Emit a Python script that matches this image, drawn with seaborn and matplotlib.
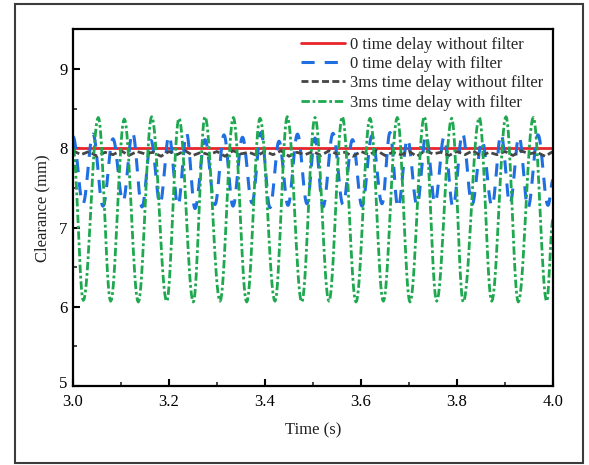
import numpy as np
import pandas as pd
import matplotlib
matplotlib.use("Agg")
import matplotlib.pyplot as plt
import matplotlib.transforms as mtransforms
import seaborn as sns
from matplotlib.patches import Rectangle
from matplotlib.ticker import MultipleLocator, FormatStrFormatter

# ---------------- data ----------------
series_names = [
    "0 time delay without filter",
    "0 time delay with filter",
    "3ms time delay without filter",
    "3ms time delay with filter",
]

# red: constant clearance
red_t = [3.0, 4.0]
red_v = [8.0, 8.0]

# blue: 0 time delay with filter -- turning points (troughs / peaks)
blue_start = (3.0, 8.15)
blue_end = (4.0, 7.6)
blue_trough_t = [3.0208, 3.0625, 3.1042, 3.1438, 3.1813, 3.2188, 3.2542, 3.2958,
                 3.3333, 3.3729, 3.4104, 3.4479, 3.4875, 3.5208, 3.5625, 3.6021,
                 3.6438, 3.6771, 3.7167, 3.7542, 3.7917, 3.8313, 3.8729, 3.9104,
                 3.9479, 3.9896]
blue_trough_v = [7.30, 7.27, 7.33, 7.26, 7.30, 7.28, 7.24, 7.29, 7.27, 7.31, 7.25,
                 7.28, 7.30, 7.26, 7.29, 7.27, 7.30, 7.25, 7.28, 7.31, 7.26, 7.29,
                 7.27, 7.30, 7.25, 7.28]
blue_peak_t = [3.0417, 3.0833, 3.1240, 3.1625, 3.2000, 3.2365, 3.2750, 3.3146,
               3.3531, 3.3917, 3.4292, 3.4677, 3.5042, 3.5417, 3.5823, 3.6229,
               3.6604, 3.6969, 3.7354, 3.7729, 3.8115, 3.8521, 3.8917, 3.9292,
               3.9688]
blue_peak_v = [8.18, 8.12, 8.20, 8.10, 8.16, 8.19, 8.11, 8.17, 8.14, 8.20, 8.09,
               8.18, 8.13, 8.19, 8.11, 8.16, 8.20, 8.12, 8.17, 8.14, 8.19, 8.10,
               8.18, 8.15, 8.17]

# black: 3ms time delay without filter -- small ripple just under 8
black_v = [7.97, 7.92, 7.96, 7.90, 7.95, 7.92, 7.97, 7.91, 7.96, 7.93, 7.95, 7.90,
           7.96, 7.92, 7.97, 7.91, 7.95, 7.92, 7.96, 7.90, 7.97, 7.93, 7.95, 7.91,
           7.96, 7.92, 7.97, 7.90, 7.95, 7.92, 7.96, 7.91, 7.97, 7.93, 7.95, 7.90,
           7.96, 7.92, 7.97, 7.91, 7.95, 7.92, 7.96, 7.90, 7.97, 7.93, 7.95, 7.91,
           7.96, 7.92, 7.97, 7.90, 7.95, 7.92, 7.96, 7.91, 7.97, 7.93, 7.95, 7.90,
           7.96]
black_t = np.linspace(3.0, 4.0, len(black_v))

# green: 3ms time delay with filter -- turning points
green_start = (3.0, 8.0)
green_end = (4.0, 7.1)
green_trough_t = [3.0215, 3.0785, 3.1360, 3.1952, 3.2506, 3.3063, 3.3619, 3.4208,
                  3.4765, 3.5333, 3.5896, 3.6465, 3.7021, 3.7577, 3.8131, 3.8723,
                  3.9277, 3.9869]
green_trough_v = [6.08, 6.07, 6.06, 6.07, 6.06, 6.07, 6.06, 6.07, 6.06, 6.07, 6.06,
                  6.07, 6.06, 6.07, 6.06, 6.07, 6.06, 6.07]
green_peak_t = [3.0527, 3.1069, 3.1640, 3.2208, 3.2750, 3.3340, 3.3896, 3.4465,
                3.5042, 3.5610, 3.6188, 3.6756, 3.7319, 3.7890, 3.8465, 3.9021,
                3.9590]
green_peak_v = [8.39, 8.37, 8.40, 8.38, 8.40, 8.39, 8.38, 8.40, 8.39, 8.40, 8.38,
                8.39, 8.40, 8.38, 8.39, 8.40, 8.39]

x_ticks = [3.0, 3.2, 3.4, 3.6, 3.8, 4.0]
y_ticks = [5, 6, 7, 8, 9]


def turning_sequence(start, troughs_t, troughs_v, peaks_t, peaks_v, end):
    t = [start[0]]
    v = [start[1]]
    for i in range(len(troughs_t)):
        t.append(troughs_t[i]); v.append(troughs_v[i])
        if i < len(peaks_t):
            t.append(peaks_t[i]); v.append(peaks_v[i])
    t.append(end[0]); v.append(end[1])
    return t, v


def smooth_path(t, v, per_seg=16):
    xs, ys = [], []
    for i in range(len(t) - 1):
        s = np.linspace(0, 1, per_seg, endpoint=False)
        w = (1 - np.cos(np.pi * s)) / 2
        xs.append(t[i] + (t[i + 1] - t[i]) * s)
        ys.append(v[i] + (v[i + 1] - v[i]) * w)
    xs.append([t[-1]]); ys.append([v[-1]])
    return np.concatenate(xs), np.concatenate(ys)


bt, bv = turning_sequence(blue_start, blue_trough_t, blue_trough_v,
                          blue_peak_t, blue_peak_v, blue_end)
gt, gv = turning_sequence(green_start, green_trough_t, green_trough_v,
                          green_peak_t, green_peak_v, green_end)
blue_x, blue_y = smooth_path(bt, bv)
green_x, green_y = smooth_path(gt, gv)

df_red = pd.DataFrame({"t": red_t, "v": red_v})
df_blue = pd.DataFrame({"t": blue_x, "v": blue_y})
df_black = pd.DataFrame({"t": black_t, "v": black_v})
df_green = pd.DataFrame({"t": green_x, "v": green_y})

# ---------------- plot ----------------
sns.set_theme(style="white")
plt.rcParams["font.family"] = ["Liberation Serif", "DejaVu Serif"]
plt.rcParams["mathtext.fontset"] = "stix"

fig = plt.figure(figsize=(5.89, 4.65), dpi=100)
ax = fig.add_axes([73 / 589, 1 - 386 / 465, (553 - 73) / 589, (386 - 29.5) / 465])

red_c = "#e8252b"
blue_c = "#1f6fe3"
black_c = "#454545"
green_c = "#1fa84f"

sns.lineplot(data=df_red, x="t", y="v", ax=ax, color=red_c, lw=2.0,
             estimator=None, sort=False, label=series_names[0])
sns.lineplot(data=df_blue, x="t", y="v", ax=ax, color=blue_c, lw=2.2,
             estimator=None, sort=False, label=series_names[1],
             dashes=False, linestyle=(0, (4.3, 3.3)))
sns.lineplot(data=df_black, x="t", y="v", ax=ax, color=black_c, lw=2.0,
             estimator=None, sort=False, label=series_names[2],
             dashes=False, linestyle=(0, (2.5, 1.2)))
sns.lineplot(data=df_green, x="t", y="v", ax=ax, color=green_c, lw=2.0,
             estimator=None, sort=False, label=series_names[3],
             dashes=False, linestyle=(0, (3, 1, 1, 1)))

ax.set_xlim(3.0, 4.0)
ax.set_ylim(5.0, 9.5)
ax.set_xticks(x_ticks)
ax.set_yticks(y_ticks)
ax.xaxis.set_major_formatter(FormatStrFormatter("%.1f"))
ax.yaxis.set_major_formatter(FormatStrFormatter("%d"))
ax.xaxis.set_minor_locator(MultipleLocator(0.1))
ax.yaxis.set_minor_locator(MultipleLocator(0.5))
ax.tick_params(axis="both", which="major", direction="in", length=5, width=1.5,
               labelsize=12, colors="black")
ax.tick_params(axis="x", which="major", pad=6)
ax.tick_params(axis="y", which="major", pad=4)
ax.tick_params(axis="both", which="minor", direction="in", length=3, width=1.2)
ax.tick_params(bottom=True, left=True, top=False, right=False, which="both")
for sp in ax.spines.values():
    sp.set_color("black")
    sp.set_linewidth(1.6)

# lift the lowest y tick label slightly, as in the reference
fig.canvas.draw()
for lab in ax.get_yticklabels():
    if lab.get_text() == "5":
        lab.set_transform(lab.get_transform() +
                          mtransforms.ScaledTranslation(0, 3 / 72, fig.dpi_scale_trans))

ax.set_xlabel("Time (s)", fontsize=12, color="#222222", labelpad=9)
ax.set_ylabel("Clearance (mm)", fontsize=12, color="#222222", labelpad=6)

leg = ax.legend(loc="upper right", bbox_to_anchor=(1.0, 1.008), frameon=False,
                fontsize=12, handlelength=2.65, handletextpad=0.3,
                labelspacing=0.2, borderaxespad=0.2)

# outer frame around the whole figure
fig.patches.append(Rectangle((15 / 589, 2 / 465), (583 - 15) / 589, (460.5 - 2) / 465,
                             transform=fig.transFigure, fill=False,
                             edgecolor="#3c3c3c", lw=1.5))

fig.savefig("out.png", dpi=100)
